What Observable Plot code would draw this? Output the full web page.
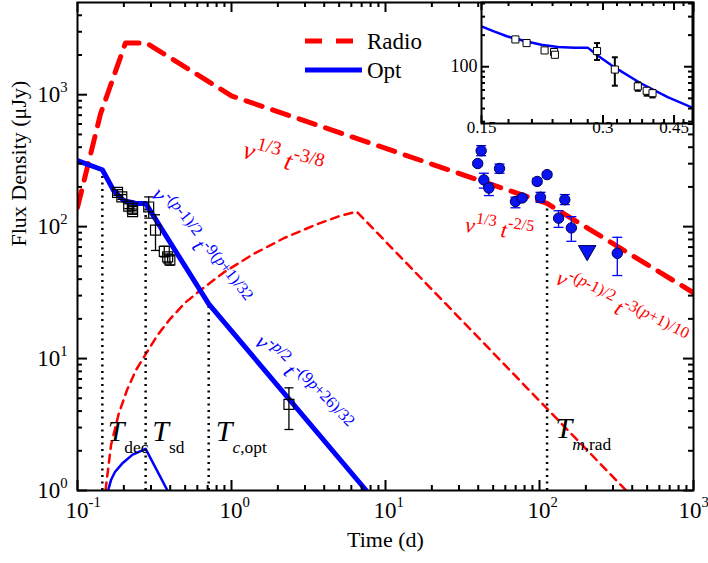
<!DOCTYPE html>
<html><head><meta charset="utf-8">
<script src="https://cdn.jsdelivr.net/npm/d3@7"></script>
<script src="https://cdn.jsdelivr.net/npm/@observablehq/plot@0.6"></script>
<style>
body{margin:0;background:#fff;}
#wrap{position:relative;width:708px;height:563px;}
#inset{position:absolute;left:440px;top:0;}
</style></head><body><div id="wrap"><div id="main"></div><div id="inset"></div></div>
<script>
// ---------- data ----------
const seriesNames = ["Radio", "Opt"];
// thick radio model
const radioT = [0.1, 0.141, 0.205, 0.28, 1.0, 112, 1000];
const radioF = [140, 714, 2470, 2470, 980, 150, 31.5];
// thin radio component
const radio2T = [0.152, 0.165, 0.185, 0.21, 0.24, 0.28, 0.33, 0.4, 0.5, 0.63, 0.89, 1.39, 2.2, 3.5, 5.0, 6.5, 365];
const radio2F = [1, 2.2, 3.8, 5.8, 8.2, 11, 15, 20, 26.5, 33, 45, 62, 82, 103, 120, 130, 1];
// thick optical model
const optT = [0.1, 0.145, 0.172, 0.2, 0.24, 0.277, 0.711, 7.5];
const optF = [316, 270, 187, 157, 150, 150, 26, 1];
// thin optical component
const opt2T = [0.158, 0.165, 0.175, 0.195, 0.228, 0.277, 0.384];
const opt2F = [1, 1.2, 1.38, 1.6, 1.87, 2.07, 1];
// optical data (open squares)
const obsT  = [0.182, 0.194, 0.215, 0.227, 0.228, 0.290, 0.321, 0.366, 0.385, 0.398, 2.36];
const obsF  = [182, 168, 143, 138, 130, 141, 94, 65, 59, 56, 4.5];
const obsLo = [173, 161, 137, 132, 124, 116, 66, 59, 53, 51, 2.9];
const obsHi = [191, 175, 149, 144, 136, 168, 123, 71, 62, 60, 6.0];
// radio data (filled circles)
const radT  = [41.8, 39.7, 43.5, 46.9, 55.0, 69.8, 77.2, 96.6, 112, 101.5, 146, 133, 161, 320];
const radF  = [376, 301, 226, 196, 276, 155, 165, 220, 248, 167, 160, 116, 97.8, 62.8];
const radLo = [345, 290, 196, 172, 254, 139, 158, 211, 238, 153, 147, 98.8, 77.4, 42.6];
const radHi = [411, 312, 254, 213, 298, 167, 172, 232, 258, 182, 175, 132, 119, 83];
// radio upper limit
const limT = [204];
const limF = [65.8];
// characteristic times (dotted lines)
const markT = [0.145, 0.277, 0.711, 112];
const markF = [270, 150, 26, 145];
const markLabel = ["*T*_{dec}", "*T*_{sd}", "*T*_{*c*,opt}", "*T*_{*m*,rad}"];
const markLabT = [0.157, 0.306, 0.79, 127];
const markLabF = [2.8, 2.8, 2.8, 2.95];
// slope annotations
const annText = ["*ν*^{1/3} *t*^{-3/8}", "*ν*^{1/3} *t*^{-2/5}", "*ν*^{-(*p*-1)/2} *t*^{-3(*p*+1)/10}",
                 "*ν*^{-(*p*-1)/2} *t*^{-9(*p*+1)/32}", "*ν*^{-*p*/2} *t*^{-(9*p*+26)/32}"];
const annT = [1.2, 33.0, 131, 0.323, 1.5];
const annF = [385, 103.5, 41.8, 187, 14.2];
const annSeries = ["Radio", "Radio", "Radio", "Opt", "Opt"];
// inset model curve
const insT = [0.15, 0.161, 0.174, 0.193, 0.211, 0.232, 0.255, 0.275, 0.291, 0.32, 0.372, 0.434, 0.5];
const insF = [242, 217, 194, 175, 162, 154, 152, 152, 128, 99, 69.6, 51.3, 40.7];
// ticks
const xMajor = [0.1, 1, 10, 100, 1000];
const yMajor = [1, 10, 100, 1000];
const insXMajor = [0.15, 0.3, 0.45];
const insXMinor = [0.175, 0.2, 0.225, 0.25, 0.275, 0.325, 0.35, 0.375, 0.4, 0.425, 0.475];
const insYMajor = [100];
const insYMinor = [30, 40, 50, 60, 70, 80, 90, 200, 300, 400];

// ---------- build ----------
const minorOf = (majors) => majors.slice(0, -1).flatMap(m => [2,3,4,5,6,7,8,9].map(k => k * m));
const xMinor = minorOf(xMajor);
const yMinor = minorOf(yMajor).concat([2000, 3000, 4000]);

const tab = (ts, fs) => ts.map((t, i) => ({t, f: fs[i]}));
const radio = tab(radioT, radioF), radio2 = tab(radio2T, radio2F);
const opt = tab(optT, optF), opt2 = tab(opt2T, opt2F);
const obs = obsT.map((t, i) => ({t, f: obsF[i], lo: obsLo[i], hi: obsHi[i]}));
const rad = radT.map((t, i) => ({t, f: radF[i], lo: radLo[i], hi: radHi[i]}));
const lim = tab(limT, limF);
const marksT = markT.map((t, i) => ({t, f: markF[i]}));
const markLabs = markLabel.map((s, i) => ({s, t: markLabT[i], f: markLabF[i]}));
const anns = annText.map((s, i) => ({s, t: annT[i], f: annF[i], series: annSeries[i]}));
const insModel = tab(insT, insF);

const RED = "#ff0000", BLUE = "#0000ff";
const colorOf = s => s === "Radio" ? RED : BLUE;
const annRot = [15, 8, 27, 52, 46];
const annSize = [26, 22, 22, 22, 22];
const ff = "'Liberation Serif','Times New Roman',Times,serif";
const cap = {draw(ctx, size) { const w = Math.sqrt(size / Math.PI); ctx.moveTo(-w, 0); ctx.lineTo(w, 0); }};
const expLabel = d => `10^{${Math.round(Math.log10(d))}}`;

const W = 708, H = 563, mL = 77, mR = 15, mT = 2, mB = 73;
const iW = W - mL - mR, iH = H - mT - mB;

const main = Plot.plot({
  width: W, height: H, marginLeft: mL, marginRight: mR, marginTop: mT, marginBottom: mB,
  x: {type: "log", domain: [0.1, 1000], axis: null},
  y: {type: "log", domain: [1, 5000], axis: null},
  style: {fontFamily: ff, background: "transparent", overflow: "visible", color: "black"},
  marks: [
    Plot.line(radio2, {x: "t", y: "f", stroke: RED, strokeWidth: 2.5, strokeDasharray: "8,6", clip: true}),
    Plot.line(opt2, {x: "t", y: "f", stroke: BLUE, strokeWidth: 2.5, clip: true}),
    Plot.ruleX(marksT, {x: "t", y1: 1, y2: "f", stroke: "black", strokeWidth: 2.5, strokeDasharray: "2,4.5"}),
    Plot.line(radio, {x: "t", y: "f", stroke: RED, strokeWidth: 5, strokeDasharray: "17,11", clip: true}),
    Plot.line(opt, {x: "t", y: "f", stroke: BLUE, strokeWidth: 5, clip: true}),
    // optical data
    Plot.ruleX(obs, {x: "t", y1: "lo", y2: "hi", stroke: "black", strokeWidth: 1.3}),
    Plot.dot(obs, {x: "t", y: "lo", symbol: cap, r: 4.5, stroke: "black", strokeWidth: 1.3, fill: "none"}),
    Plot.dot(obs, {x: "t", y: "hi", symbol: cap, r: 4.5, stroke: "black", strokeWidth: 1.3, fill: "none"}),
    Plot.dot(obs, {x: "t", y: "f", symbol: "square", r: 5.6, stroke: "black", strokeWidth: 1.2, fill: "none"}),
    // radio data
    Plot.ruleX(rad, {x: "t", y1: "lo", y2: "hi", stroke: BLUE, strokeWidth: 1.3}),
    Plot.dot(rad, {x: "t", y: "lo", symbol: cap, r: 5, stroke: BLUE, strokeWidth: 1.3, fill: "none"}),
    Plot.dot(rad, {x: "t", y: "hi", symbol: cap, r: 5, stroke: BLUE, strokeWidth: 1.3, fill: "none"}),
    Plot.dot(rad, {x: "t", y: "f", r: 5.2, fill: "#0a14f0", stroke: "#00005a", strokeWidth: 1}),
    Plot.dot(lim, {x: "t", y: "f", symbol: "triangle", rotate: 180, r: 6.5, fill: "#0a14f0", stroke: "#00005a", strokeWidth: 1}),
    // annotations
    Plot.text(anns, {x: "t", y: "f", text: "s", fill: d => colorOf(d.series), rotate: (d, i) => annRot[i],
      fontSize: (d, i) => annSize[i], textAnchor: "start"}),
    Plot.text(markLabs, {x: "t", y: "f", text: "s", fill: "black", textAnchor: "start", fontSize: 30}),
    // ticks
    Plot.tickX(xMajor, {x: d => d, insetTop: iH - 10, stroke: "black", strokeWidth: 2}),
    Plot.tickX(xMajor, {x: d => d, insetBottom: iH - 10, stroke: "black", strokeWidth: 2}),
    Plot.tickX(xMinor, {x: d => d, insetTop: iH - 5, stroke: "black", strokeWidth: 2}),
    Plot.tickX(xMinor, {x: d => d, insetBottom: iH - 5, stroke: "black", strokeWidth: 2}),
    Plot.tickY(yMajor, {y: d => d, insetRight: iW - 10, stroke: "black", strokeWidth: 2}),
    Plot.tickY(yMajor, {y: d => d, insetLeft: iW - 10, stroke: "black", strokeWidth: 2}),
    Plot.tickY(yMinor, {y: d => d, insetRight: iW - 5, stroke: "black", strokeWidth: 2}),
    Plot.tickY(yMinor, {y: d => d, insetLeft: iW - 5, stroke: "black", strokeWidth: 2}),
    Plot.text(xMajor.slice(0, -1), {x: d => d, frameAnchor: "bottom", dy: 27, dx: -12, textAnchor: "start",
      text: expLabel, fontSize: 23, fill: "black"}),
    Plot.text(xMajor.slice(-1), {x: d => d, frameAnchor: "bottom", dy: 27, dx: -15, textAnchor: "start",
      text: expLabel, fontSize: 23, fill: "black"}),
    Plot.text(yMajor, {y: d => d, frameAnchor: "left", dx: -10, textAnchor: "end",
      text: expLabel, fontSize: 23, fill: "black"}),
    Plot.text(["Time (d)"], {frameAnchor: "bottom", dy: 56, fontSize: 22, fill: "black"}),
    Plot.text(["Flux Density (μJy)"], {frameAnchor: "left", dx: -59, rotate: -90, fontSize: 22, fill: "black"}),
    Plot.frame({stroke: "black", strokeWidth: 2})
  ]
});

const insL = 41, insR = 2, insTop = 2, insB = 19, insW = 254, insH = 142;
const iiW = insW - insL - insR, iiH = insH - insTop - insB;
const inset = Plot.plot({
  width: insW, height: insH, marginLeft: insL, marginRight: insR, marginTop: insTop, marginBottom: insB,
  x: {type: "log", domain: [0.15, 0.5], axis: null},
  y: {type: "log", domain: [28.8, 409], axis: null},
  style: {fontFamily: ff, background: "transparent", overflow: "visible", color: "black"},
  marks: [
    Plot.frame({fill: "white"}),
    Plot.line(insModel, {x: "t", y: "f", stroke: BLUE, strokeWidth: 2.5, clip: true}),
    Plot.ruleX(obs, {x: "t", y1: "lo", y2: "hi", stroke: "black", strokeWidth: 2, clip: true}),
    Plot.dot(obs, {x: "t", y: "lo", symbol: cap, r: 3, stroke: "black", strokeWidth: 2, fill: "none", clip: true}),
    Plot.dot(obs, {x: "t", y: "hi", symbol: cap, r: 3, stroke: "black", strokeWidth: 2, fill: "none", clip: true}),
    Plot.dot(obs, {x: "t", y: "f", symbol: "square", r: 4, stroke: "black", strokeWidth: 1, fill: "white", clip: true}),
    Plot.tickX(insXMajor, {x: d => d, insetTop: iiH - 8, stroke: "black", strokeWidth: 2}),
    Plot.tickX(insXMajor, {x: d => d, insetBottom: iiH - 8, stroke: "black", strokeWidth: 2}),
    Plot.tickX(insXMinor, {x: d => d, insetTop: iiH - 4, stroke: "black", strokeWidth: 2}),
    Plot.tickX(insXMinor, {x: d => d, insetBottom: iiH - 4, stroke: "black", strokeWidth: 2}),
    Plot.tickY(insYMajor, {y: d => d, insetRight: iiW - 8, stroke: "black", strokeWidth: 2}),
    Plot.tickY(insYMajor, {y: d => d, insetLeft: iiW - 8, stroke: "black", strokeWidth: 2}),
    Plot.tickY(insYMinor, {y: d => d, insetRight: iiW - 4, stroke: "black", strokeWidth: 2}),
    Plot.tickY(insYMinor, {y: d => d, insetLeft: iiW - 4, stroke: "black", strokeWidth: 2}),
    Plot.text(insXMajor, {x: d => d, frameAnchor: "bottom", dy: 9, text: d => String(d), fontSize: 17, fill: "black"}),
    Plot.text(insYMajor, {y: d => d, frameAnchor: "left", dx: -4, textAnchor: "end", text: d => String(d), fontSize: 18, fill: "black"}),
    Plot.frame({stroke: "black", strokeWidth: 2})
  ]
});

document.getElementById("main").appendChild(main);
document.getElementById("inset").appendChild(inset);

// legend drawn inside the main frame
const ns = "http://www.w3.org/2000/svg";
const lg = document.createElementNS(ns, "g");
lg.setAttribute("font-family", ff);
lg.setAttribute("text-anchor", "start");
const legendRows = [
  {name: seriesNames[0], color: RED, dash: "17,14", y: 41, len: 48},
  {name: seriesNames[1], color: BLUE, dash: null, y: 70, len: 57}
];
for (const r of legendRows) {
  const ln = document.createElementNS(ns, "line");
  ln.setAttribute("x1", 305); ln.setAttribute("x2", 305 + r.len);
  ln.setAttribute("y1", r.y); ln.setAttribute("y2", r.y);
  ln.setAttribute("stroke", r.color); ln.setAttribute("stroke-width", 5);
  if (r.dash) ln.setAttribute("stroke-dasharray", r.dash);
  lg.appendChild(ln);
  const tx = document.createElementNS(ns, "text");
  tx.setAttribute("x", 367); tx.setAttribute("y", r.y); tx.setAttribute("dy", "0.35em");
  tx.setAttribute("font-size", 23); tx.setAttribute("fill", "black");
  tx.setAttribute("text-anchor", "start");
  tx.textContent = r.name;
  lg.appendChild(tx);
}
main.appendChild(lg);

// rich text: ^{sup}, _{sub}, *italic*
function richify(svg) {
  svg.querySelectorAll("text").forEach(el => {
    const s = el.textContent;
    if (!/[\^_*]/.test(s)) return;
    const cs = getComputedStyle(el);
    const fs = parseFloat(cs.fontSize) || 16;
    const black = /rgb\(0, 0, 0\)|black/.test(cs.fill);
    const supR = black ? 0.64 : 0.74;
    const subR = 0.58;
    const parts = [];
    let cur = "", i = 0;
    while (i < s.length) {
      const c = s[i];
      if ((c === "^" || c === "_") && s[i + 1] === "{") {
        if (cur) parts.push({t: cur, m: 0});
        cur = "";
        const j = s.indexOf("}", i + 2);
        parts.push({t: s.slice(i + 2, j), m: c === "^" ? 1 : -1});
        i = j + 1;
      } else { cur += c; i++; }
    }
    if (cur) parts.push({t: cur, m: 0});
    while (el.firstChild) el.removeChild(el.firstChild);
    let prev = 0;
    for (const p of parts) {
      const off = p.m === 1 ? -0.45 * fs : p.m === -1 ? 0.4 * fs : 0;
      const size = p.m === 1 ? supR * fs : p.m === -1 ? subR * fs : fs;
      p.t.split("*").forEach((seg, k) => {
        if (!seg) return;
        const ts = document.createElementNS(ns, "tspan");
        ts.setAttribute("font-size", size);
        ts.setAttribute("font-style", k % 2 ? "italic" : "normal");
        ts.setAttribute("dy", off - prev);
        prev = off;
        ts.textContent = seg;
        el.appendChild(ts);
      });
    }
  });
}
richify(main);
richify(inset);
</script></body></html>
